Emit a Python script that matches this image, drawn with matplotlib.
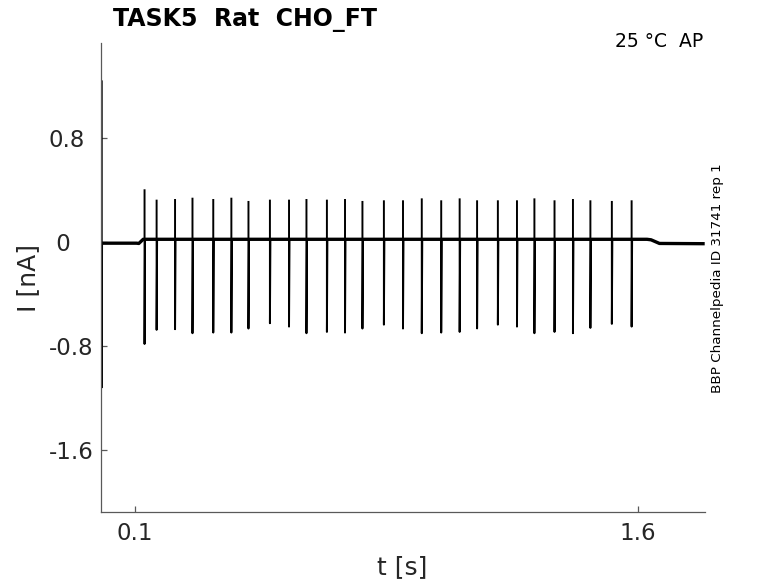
import numpy as np
import matplotlib
matplotlib.use("Agg")
import matplotlib.pyplot as plt

# spike times [s] and their peak / trough currents [nA]
spike_t = [0.129, 0.165, 0.220, 0.272, 0.334, 0.388, 0.439, 0.503, 0.560,
           0.612, 0.673, 0.727, 0.779, 0.843, 0.900, 0.956, 1.014, 1.069,
           1.121, 1.183, 1.240, 1.292, 1.352, 1.407, 1.459, 1.523, 1.582]
spike_hi = [0.40, 0.32, 0.325, 0.335, 0.325, 0.335, 0.31, 0.32, 0.32,
            0.325, 0.32, 0.325, 0.31, 0.315, 0.315, 0.33, 0.315, 0.33,
            0.315, 0.315, 0.315, 0.33, 0.315, 0.325, 0.315, 0.31, 0.315]
spike_lo = [-0.785, -0.676, -0.671, -0.702, -0.697, -0.697, -0.666, -0.625, -0.651,
            -0.702, -0.692, -0.697, -0.666, -0.636, -0.666, -0.702, -0.697, -0.692,
            -0.665, -0.636, -0.651, -0.702, -0.692, -0.702, -0.661, -0.630, -0.651]

# holding / stimulus baseline
base_t = [0.0, 0.105, 0.112, 0.125, 1.628, 1.640, 1.665, 1.80]
base_i = [-0.008, -0.008, -0.01, 0.022, 0.022, 0.018, -0.01, -0.012]

# capacitive transient at the start of the sweep
trans_t = [0.0015, 0.0015, 0.0025]
trans_i = [1.24, -1.12, -0.008]

xticks = [0.1, 1.6]
xtick_labels = ["0.1", "1.6"]
yticks = [0.8, 0, -0.8, -1.6]
ytick_labels = ["0.8", " 0", "-0.8", "-1.6"]

title = "TASK5  Rat  CHO_FT"
cond = "25 °C  AP"
side = "BBP Channelpedia ID 31741 rep 1"

grey = "#595959"
txt = "#262626"

fig = plt.figure(figsize=(7.78, 5.83), dpi=100)
ax = fig.add_axes([101.3 / 778, 1 - 512 / 583, 603.4 / 778, 469 / 583])

# baseline (thicker, noisy-looking in the original)
ax.plot(base_t, base_i, color="black", lw=2.4, solid_capstyle="butt")
ax.plot(trans_t, trans_i, color="black", lw=1.3)

# spikes: vertical strokes from peak to trough
base_at = np.interp(spike_t, base_t, base_i)
for t, hi, lo, b in zip(spike_t, spike_hi, spike_lo, base_at):
    ax.plot([t, t, t + 0.0015, t + 0.003], [hi, lo, b, b], color="black", lw=1.4)

ax.set_xlim(0, 1.8)
ax.set_ylim(-2.08, 1.535)
ax.set_xticks(xticks)
ax.set_xticklabels(xtick_labels)
ax.set_yticks(yticks)
ax.set_yticklabels(ytick_labels)

for s in ["top", "right"]:
    ax.spines[s].set_visible(False)
for s in ["left", "bottom"]:
    ax.spines[s].set_color(grey)
    ax.spines[s].set_linewidth(0.9)
ax.tick_params(direction="in", length=4.3, width=0.9, color=grey,
               labelsize=16.5, labelcolor=txt)
ax.tick_params(axis="x", pad=7)
# y labels are left-aligned in the original
ax.tick_params(axis="y", pad=38)
for lab in ax.get_yticklabels():
    lab.set_horizontalalignment("left")

ax.set_xlabel("t [s]", fontsize=18, color=txt)
ax.set_ylabel("I [nA]", fontsize=18, color=txt)
ax.xaxis.set_label_coords(0.499, -0.092)
ax.yaxis.set_label_coords(-0.101, 0.5)

fig.text(113 / 778, 1 - 26 / 583, title, fontsize=17, fontweight="bold",
         ha="left", va="baseline", color="black")
fig.text(703 / 778, 1 - 47.3 / 583, cond, fontsize=13.5, ha="right",
         va="baseline", color="black")
fig.text(717 / 778, 1 - 278 / 583, side, fontsize=9.7, rotation=90,
         ha="center", va="center", color="black")

fig.savefig("out.png", dpi=100)
